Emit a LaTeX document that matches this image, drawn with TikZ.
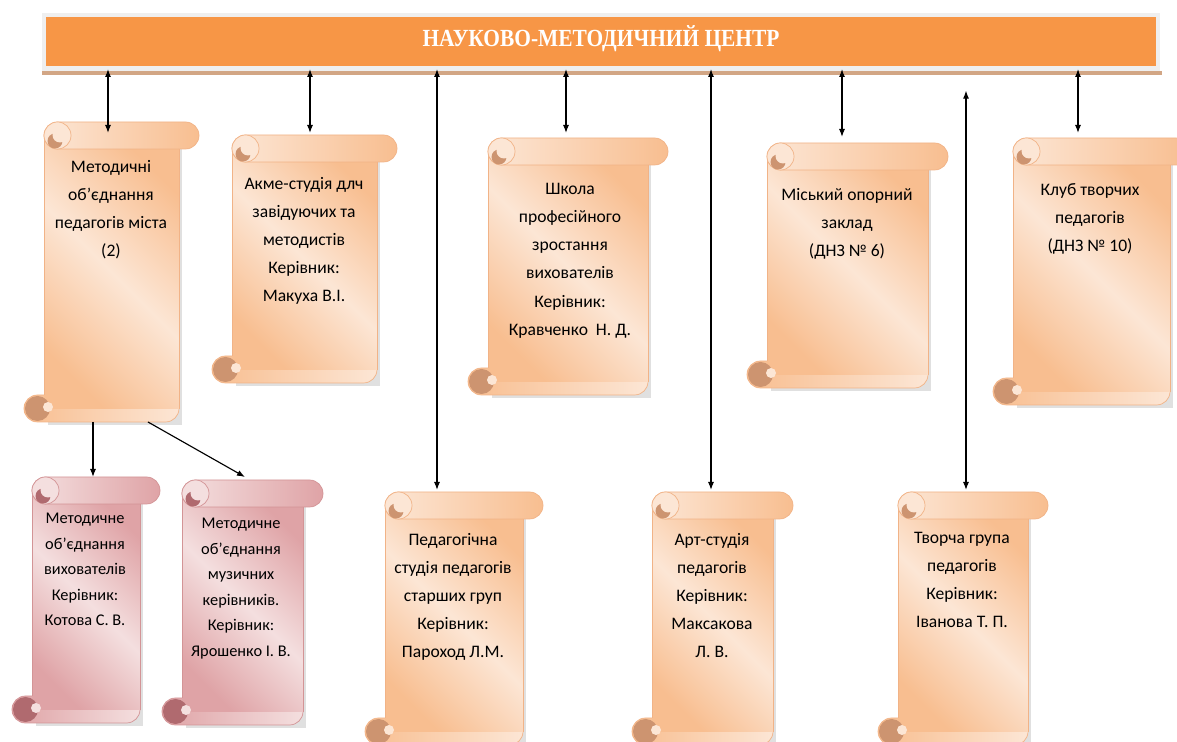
\documentclass[tikz,border=0pt]{standalone}
\usepackage{fontspec}
\setmainfont{Carlito}
\newfontfamily\bannerfont{Liberation Serif}[FakeStretch=0.87]
\usetikzlibrary{arrows.meta}

\definecolor{bannerorange}{HTML}{F79646}
\definecolor{bannerframe}{HTML}{EFEFEF}
\definecolor{bannershadow}{HTML}{D2A685}
\definecolor{peachmid}{HTML}{F8BE90}
\definecolor{peachlight}{HTML}{FCE6D5}
\definecolor{peachcurl}{HTML}{CD9470}
\definecolor{peachline}{HTML}{F1B387}
\definecolor{pinkmid}{HTML}{DFA3A6}
\definecolor{pinklight}{HTML}{F4DFDF}
\definecolor{pinkcurl}{HTML}{B06A6F}
\definecolor{pinkline}{HTML}{D39496}

% scroll: #1 palette, #2 left, #3 top, #4 right, #5 bottom (pixels)
\newcommand{\scroll}[5]{%
  \fill[black, opacity=0.12] (#2+24,#3+16) rectangle (#4-17,#5+3);
  \draw[#1line, left color=#1mid, right color=#1light, rounded corners=0.27cm] (#2,#5-27) rectangle (#4-20,#5);
  \shade[top color=#1mid, bottom color=#1mid, middle color=#1light, shading angle=-45] (#2+20,#3+13) rectangle (#4-20,#5-13);
  \draw[#1line] (#2+20,#3+13) -- (#2+20,#5-27) (#4-20,#3+13) -- (#4-20,#5-13);
  \draw[#1line, left color=#1light, right color=#1mid, rounded corners=0.27cm] (#2+20,#3) rectangle (#4,#3+27);
  \draw[#1line, fill=#1light] (#2+33.5,#3+13.5) circle (13.5);
  \fill[#1curl] (#2+31,#3+19) circle (7.5);
  \fill[#1light] (#2+36,#3+13) circle (7.5);
  \fill[#1curl] (#2+13.5,#5-13.5) circle (12.5);
  \fill[#1light] (#2+24,#5-15) circle (5);
}

\begin{document}
\begin{tikzpicture}[x=0.02cm, y=-0.02cm,
    banner/.style={fill=bannerorange, minimum width=22.2cm, minimum height=0.98cm, inner sep=0pt,
      text height=9.5pt, text depth=3.5pt,
      text=white, font=\bannerfont\bfseries\fontsize{14}{16}\selectfont},
    txt/.style={anchor=north, align=center, inner sep=0pt, text=black,
      font=\fontsize{10}{16}\selectfont},
    ptxt/.style={txt, font=\fontsize{9.3}{14.5}\selectfont},
    dbl/.style={{Latex[length=0.16cm,width=0.12cm]}-{Latex[length=0.16cm,width=0.12cm]}, line width=0.65pt, shorten <=1.5pt},
    one/.style={-{Latex[length=0.16cm,width=0.12cm]}, line width=0.65pt}]
  %%%%% START %%%%%
  \useasboundingbox (0,0) rectangle (1177,742);
  \clip (0,0) rectangle (1177,742);

  % banner
  \fill[bannerframe] (42,13) rectangle (1160,71);
  \fill[bannershadow] (42,71) rectangle (1162,75);
  \node[banner] (centre) at (601,41.5) {НАУКОВО-МЕТОДИЧНИЙ ЦЕНТР};

  % upper row
  \scroll{peach}{24}{122}{199}{422}
  \node[txt] (metod) at (111,160) {Методичні\\об’єднання\\педагогів міста\\(2)};

  \scroll{peach}{212}{135}{397}{383}
  \node[txt] (akme) at (304,177) {Акме-студія длч\\завідуючих та\\методистів\\Керівник:\\Макуха В.І.};

  \scroll{peach}{468}{138}{668}{395}
  \node[txt] (shkola) at (570,183) {Школа\\професійного\\зростання\\вихователів\\Керівник:\\Кравченко~~Н. Д.};

  \scroll{peach}{747}{143}{948}{388}
  \node[txt] (misk) at (847,188) {Міський опорний\\заклад\\(ДНЗ № 6)};

  \scroll{peach}{993}{138}{1190}{405}
  \node[txt] (klub) at (1090,183) {Клуб творчих\\педагогів\\(ДНЗ № 10)};

  % lower row
  \scroll{pink}{12}{477}{160}{723}
  \node[ptxt] (vyh) at (85,513) {Методичне\\об’єднання\\вихователів\\Керівник:\\Котова С. В.};

  \scroll{pink}{162}{480}{323}{725}
  \node[ptxt] (muz) at (241,518) {Методичне\\об’єднання\\музичних\\керівників.\\Керівник:\\Ярошенко І. В.};

  \scroll{peach}{365}{492}{543}{745}
  \node[txt] (ped) at (453,533) {Педагогічна\\студія педагогів\\старших груп\\Керівник:\\Пароход Л.М.};

  \scroll{peach}{632}{492}{793}{745}
  \node[txt] (art) at (712,533) {Арт-студія\\педагогів\\Керівник:\\Максакова\\Л. В.};

  \scroll{peach}{878}{492}{1048}{745}
  \node[txt] (tvor) at (962,532) {Творча група\\педагогів\\Керівник:\\Іванова Т. П.};

  % arrows
  \coordinate (metod in) at (108,133);
  \coordinate (akme in) at (310,133);
  \coordinate (ped in) at (437,490);
  \coordinate (shkola in) at (566,133);
  \coordinate (art in) at (711,490);
  \coordinate (misk in) at (842,137);
  \coordinate (tvor out) at (966,88);
  \coordinate (tvor in) at (966,490);
  \coordinate (klub in) at (1078,133);
  \draw[dbl] (centre.south -| metod in) -- (metod in);
  \draw[dbl] (centre.south -| akme in) -- (akme in);
  \draw[dbl] (centre.south -| ped in) -- (ped in);
  \draw[dbl] (centre.south -| shkola in) -- (shkola in);
  \draw[dbl] (centre.south -| art in) -- (art in);
  \draw[dbl] (centre.south -| misk in) -- (misk in);
  \draw[dbl] (tvor out) -- (tvor in);
  \draw[dbl] (centre.south -| klub in) -- (klub in);

  \coordinate (metod out1) at (93,422);
  \coordinate (metod out2) at (148,422);
  \coordinate (vyh in) at (93,477);
  \coordinate (muz in) at (245,477);
  \draw[one] (metod out1) -- (vyh in);
  \draw[one] (metod out2) -- (muz in);
  %%%%% END %%%%%
\end{tikzpicture}
\end{document}
